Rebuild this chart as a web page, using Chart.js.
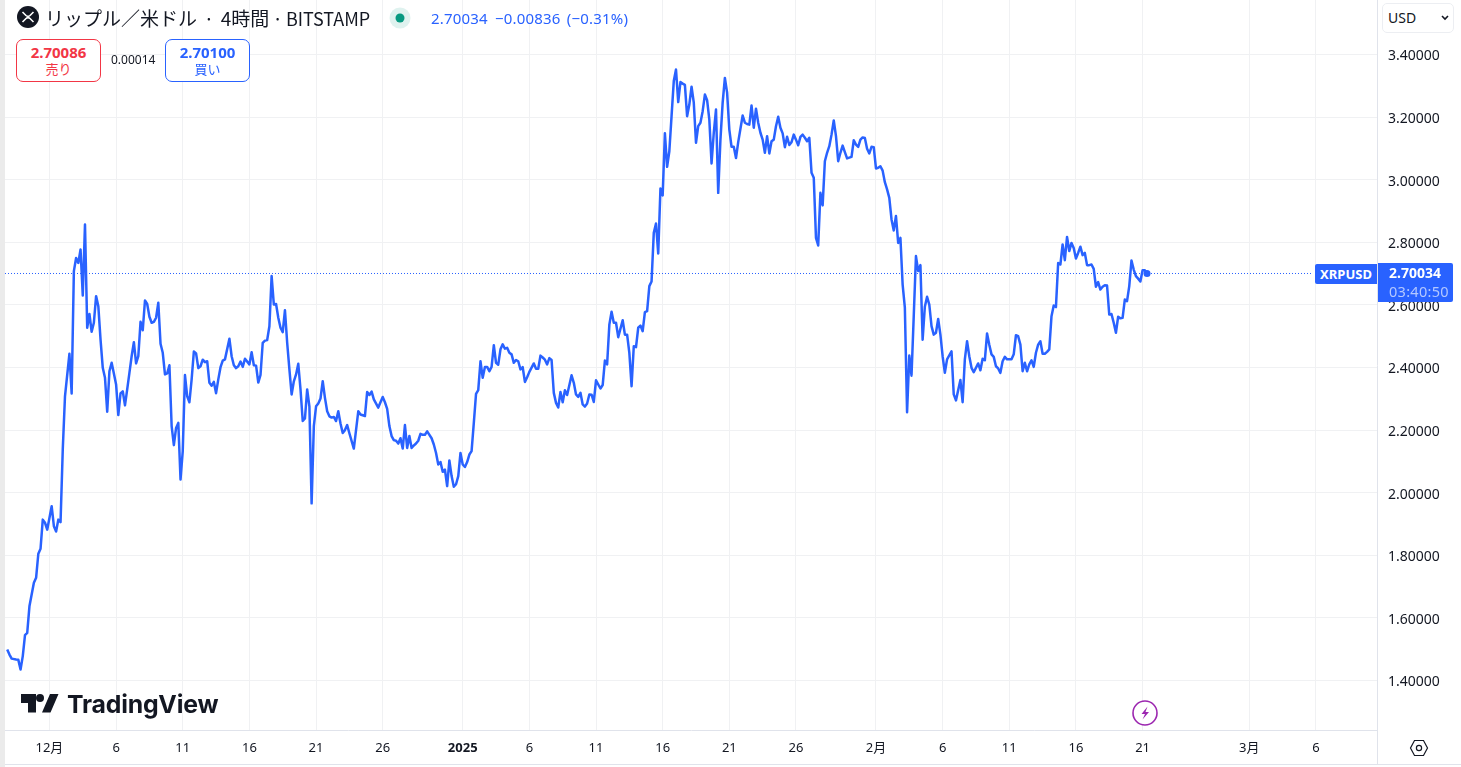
<!DOCTYPE html>
<html>
<head>
<meta charset="utf-8">
<title>XRPUSD</title>
<script src="https://cdn.jsdelivr.net/npm/chart.js@4"></script>
<style>
  html, body { margin: 0; padding: 0; background: #fff; }
  body { width: 1461px; height: 767px; position: relative; overflow: hidden; font-family: "Noto Sans", "Noto Sans CJK JP", sans-serif; color: #131722; }
  canvas { position: absolute; left: 0; top: 0; }
  .abs { position: absolute; white-space: nowrap; }
  .strip { left: 0; top: 0; width: 5px; height: 767px; background: #ebebeb; }
  .title { left: 45px; top: 5px; font-size: 19px; line-height: 26px; font-family: "Noto Sans CJK JP", sans-serif; }
  .title em { font-style: normal; font-size: 18px; }
  .title em.sep1 { margin: 0 2.5px; font-size: 18.5px; }
  .title em.sep2 { margin: 0 -1px; font-size: 18.5px; }
  .quote { left: 431px; top: 9px; font-size: 15px; line-height: 18px; color: #2962ff; letter-spacing: 0.2px; }
  .quote span { margin-left: 7px; }
  .box { top: 39px; width: 83px; height: 41px; border: 1px solid; border-radius: 7px; background: #fff; text-align: center; }
  .box b { display: block; font-size: 15px; line-height: 17px; margin-top: 4px; }
  .box i { display: block; font-style: normal; font-size: 13px; line-height: 16px; font-family: "Noto Sans CJK JP", sans-serif; }
  .sell { left: 16px; border-color: #f23645; color: #f23645; }
  .buy { left: 165px; border-color: #2962ff; color: #2962ff; }
  .spread { left: 111px; top: 52px; font-size: 12px; line-height: 16px; }
  .usd { left: 1382px; top: 3px; width: 70px; height: 28px; border: 1px solid #eceef2; border-radius: 5px; background: #fff; font-size: 14px; line-height: 28px; text-indent: 5px; }
  .sym { left: 1315px; top: 264px; width: 62px; height: 20px; background: #2962ff; color: #fff; border-radius: 2px 0 0 2px; font-size: 13px; font-weight: 700; line-height: 20px; text-align: center; }
  .last { left: 1378px; top: 263px; width: 64px; padding-left: 11px; height: 39px; background: #2962ff; color: #fff; border-radius: 0 2px 2px 0; font-size: 14px; line-height: 19px; }
  .last b { display: block; }
  .last span { display: block; color: #b4c8ff; font-size: 14.5px; letter-spacing: 0.3px; }
  .wordmark { left: 67px; top: 687px; font-family: Inter, sans-serif; font-size: 24.8px; font-weight: 700; line-height: 34px; letter-spacing: -0.2px; color: #131722; }
</style>
</head>
<body>
<canvas id="chart" width="1461" height="767"></canvas>
<div class="abs strip"></div>

<svg class="abs" style="left:17px;top:6px" width="22" height="22" viewBox="0 0 22 22">
  <circle cx="11" cy="11" r="11" fill="#131722"/>
  <path d="M5.5 6 L9 9.5 Q11 11.3 13 9.5 L16.5 6 M5.5 16 L9 12.5 Q11 10.7 13 12.5 L16.5 16" fill="none" stroke="#fff" stroke-width="1.6"/>
</svg>
<div class="abs title">リップル／米ドル<em class="sep1"> · </em>4時間<em class="sep2"> · </em><em>BITSTAMP</em></div>
<svg class="abs" style="left:389px;top:7px" width="22" height="22">
  <circle cx="11" cy="11" r="10.5" fill="#089981" fill-opacity="0.13"/>
  <circle cx="11" cy="11" r="4.5" fill="#089981"/>
</svg>
<div class="abs quote">2.70034<span>−0.00836</span> <span style="margin-left:2px">(−0.31%)</span></div>

<div class="abs box sell"><b>2.70086</b><i>売り</i></div>
<div class="abs spread">0.00014</div>
<div class="abs box buy"><b>2.70100</b><i>買い</i></div>

<div class="abs usd">USD</div>
<svg class="abs" style="left:1440px;top:14px" width="10" height="8"><path d="M2 2 L5 5 L8 2" fill="none" stroke="#131722" stroke-width="1.6"/></svg>

<div class="abs sym">XRPUSD</div>
<div class="abs last"><b>2.70034</b><span>03:40:50</span></div>

<svg class="abs" style="left:21px;top:694px" width="38" height="19">
  <path d="M0 0H15V18.5H7V9H0Z M29 0H37.5L29.5 18.5H21Z" fill="#131722"/>
  <circle cx="19" cy="4" r="4" fill="#131722"/>
</svg>
<div class="abs wordmark">TradingView</div>

<svg class="abs" style="left:1132px;top:700px" width="26" height="26" viewBox="0 0 26 26">
  <circle cx="13" cy="13" r="12" fill="#fff" stroke="#9c27b0" stroke-width="1.6"/>
  <path d="M15.5 6.5 L9.5 14 H13 L10.5 19.5 L17 12 H13.5 Z" fill="#9c27b0"/>
</svg>
<svg class="abs" style="left:1409px;top:738px" width="20" height="20" viewBox="0 0 20 20">
  <path d="M5.5 2.5 H14.5 L18.5 10 L14.5 17.5 H5.5 L1.5 10 Z" fill="none" stroke="#131722" stroke-width="1.2"/>
  <circle cx="10" cy="10" r="2.6" fill="none" stroke="#131722" stroke-width="1.2"/>
</svg>

<script>
// hours since 1 Dec 00:00, one 4h bar = 4
const hours = [
  -76, -72, -68, -60, -56, -52, -48, -44, -40, -36, -28, -24, -20, -16, -12, -8, -4, 4, 8, 12, 16, 20, 24, 28, 36, 40, 44, 48, 52, 56,
  60, 64, 68, 72, 76, 80, 84, 88, 92, 96, 100, 104, 108, 112, 116, 120, 124, 128, 132, 136, 140, 144, 148, 152, 156, 160, 164, 168, 172, 176,
  180, 184, 188, 192, 196, 200, 204, 208, 212, 216, 220, 224, 228, 232, 236, 240, 244, 248, 252, 256, 260, 264, 268, 272, 276, 280, 284, 288, 292, 296,
  300, 304, 308, 312, 316, 324, 328, 332, 336, 340, 344, 348, 352, 360, 364, 368, 372, 376, 380, 384, 388, 392, 396, 400, 404, 408, 412, 416, 420, 424,
  428, 432, 436, 440, 444, 448, 452, 456, 460, 464, 468, 472, 476, 480, 484, 488, 492, 496, 500, 504, 508, 512, 516, 520, 524, 528, 532, 536, 540,
  548, 556, 560, 568, 572, 576, 580, 584, 592, 600, 604, 608, 612, 616, 620, 624, 628, 632, 636, 640, 644, 648, 652, 656, 660, 664, 668, 672, 676, 680,
  688, 692, 696, 700, 704, 708, 712, 716, 720, 724, 728, 732, 736, 740, 744, 748, 752, 756, 760, 764, 768, 772, 776, 780, 784, 788, 792, 796, 800, 804,
  808, 812, 816, 820, 824, 828, 832, 836, 840, 844, 848, 852, 856, 860, 864, 872, 876, 880, 884, 888, 892, 896, 900, 904, 908, 912, 916, 920, 924, 928,
  932, 940, 944, 948, 952, 956, 960, 964, 968, 972, 976, 980, 984, 992, 996, 1000, 1004, 1008, 1012, 1016, 1020, 1024, 1032, 1036, 1040, 1044, 1048, 1052, 1056, 1060,
  1064, 1068, 1072, 1076, 1080, 1084, 1088, 1092, 1096, 1100, 1104, 1108, 1112, 1116, 1120, 1124, 1128, 1132, 1136, 1140, 1144, 1148, 1152, 1156, 1160, 1164, 1168, 1172, 1176, 1180,
  1184, 1188, 1192, 1196, 1200, 1204, 1208, 1212, 1216, 1220, 1224, 1228, 1232, 1236, 1240, 1248, 1252, 1256, 1260, 1264, 1268, 1272, 1276, 1280, 1284, 1288, 1292, 1296, 1300, 1304,
  1308, 1312, 1316, 1320, 1324, 1328, 1332, 1336, 1340, 1344, 1348, 1352, 1356, 1360, 1364, 1368, 1372, 1376, 1380, 1384, 1388, 1392, 1396, 1400, 1404, 1408, 1412, 1416, 1420, 1424,
  1428, 1432, 1436, 1444, 1448, 1452, 1456, 1460, 1464, 1468, 1472, 1476, 1480, 1484, 1488, 1492, 1496, 1500, 1504, 1508, 1512, 1516, 1520, 1524, 1528, 1532, 1536, 1540, 1544, 1548,
  1552, 1556, 1560, 1564, 1568, 1572, 1576, 1580, 1584, 1588, 1592, 1596, 1600, 1604, 1608, 1612, 1616, 1624, 1628, 1632, 1640, 1644, 1648, 1652, 1656, 1660, 1664, 1672, 1676, 1680,
  1684, 1688, 1692, 1696, 1700, 1704, 1708, 1712, 1716, 1720, 1724, 1732, 1736, 1740, 1744, 1748, 1752, 1756, 1760, 1764, 1768, 1772, 1776, 1780, 1784, 1788, 1792, 1796, 1800, 1804,
  1808, 1812, 1816, 1820, 1824, 1828, 1832, 1836, 1840, 1844, 1848, 1852, 1856, 1860, 1864, 1868, 1872, 1876, 1880, 1884, 1888, 1892, 1896, 1900, 1904, 1908, 1912, 1916, 1920, 1924,
  1928, 1932, 1936, 1940, 1944, 1948, 1952, 1956, 1960, 1964, 1968, 1972, 1976
];

const prices = [
  1.499, 1.483, 1.470, 1.467, 1.466, 1.435, 1.478, 1.545, 1.552, 1.637, 1.712, 1.728, 1.805, 1.821, 1.914, 1.904, 1.882, 1.957, 1.893, 1.876, 1.914, 1.906, 2.138, 2.308, 2.444, 2.317, 2.708, 2.750, 2.734, 2.777,
  2.630, 2.857, 2.527, 2.571, 2.514, 2.543, 2.628, 2.596, 2.489, 2.399, 2.367, 2.259, 2.388, 2.415, 2.381, 2.346, 2.248, 2.317, 2.324, 2.279, 2.330, 2.383, 2.436, 2.481, 2.413, 2.436, 2.546, 2.519, 2.614, 2.603,
  2.562, 2.543, 2.546, 2.559, 2.607, 2.476, 2.447, 2.378, 2.381, 2.407, 2.213, 2.152, 2.207, 2.223, 2.042, 2.133, 2.376, 2.308, 2.289, 2.362, 2.451, 2.445, 2.398, 2.404, 2.425, 2.417, 2.420, 2.351, 2.342, 2.354,
  2.318, 2.362, 2.401, 2.422, 2.426, 2.492, 2.436, 2.407, 2.398, 2.404, 2.419, 2.402, 2.428, 2.410, 2.449, 2.407, 2.406, 2.352, 2.376, 2.479, 2.486, 2.488, 2.532, 2.692, 2.601, 2.603, 2.559, 2.527, 2.513, 2.583,
  2.479, 2.394, 2.314, 2.356, 2.378, 2.412, 2.330, 2.229, 2.237, 2.330, 2.276, 1.966, 2.213, 2.276, 2.285, 2.301, 2.356, 2.303, 2.260, 2.244, 2.240, 2.242, 2.229, 2.260, 2.221, 2.191, 2.200, 2.216, 2.190,
  2.141, 2.260, 2.250, 2.245, 2.322, 2.312, 2.323, 2.298, 2.272, 2.306, 2.289, 2.268, 2.213, 2.181, 2.168, 2.166, 2.157, 2.174, 2.141, 2.216, 2.143, 2.181, 2.143, 2.151, 2.157, 2.166, 2.188, 2.185, 2.185, 2.196,
  2.174, 2.154, 2.127, 2.090, 2.098, 2.067, 2.074, 2.021, 2.103, 2.053, 2.019, 2.027, 2.053, 2.127, 2.090, 2.082, 2.098, 2.122, 2.133, 2.223, 2.316, 2.328, 2.420, 2.367, 2.402, 2.402, 2.388, 2.402, 2.471, 2.415,
  2.409, 2.458, 2.474, 2.460, 2.463, 2.447, 2.442, 2.415, 2.424, 2.420, 2.394, 2.401, 2.354, 2.369, 2.386, 2.413, 2.396, 2.396, 2.438, 2.432, 2.425, 2.410, 2.430, 2.424, 2.319, 2.287, 2.272, 2.322, 2.289, 2.327,
  2.312, 2.375, 2.351, 2.314, 2.306, 2.319, 2.282, 2.275, 2.285, 2.314, 2.313, 2.290, 2.359, 2.333, 2.344, 2.422, 2.410, 2.537, 2.578, 2.543, 2.543, 2.497, 2.551, 2.505, 2.505, 2.447, 2.340, 2.468, 2.465, 2.527,
  2.534, 2.516, 2.577, 2.580, 2.660, 2.675, 2.830, 2.860, 2.764, 2.972, 2.950, 3.148, 3.041, 3.091, 3.203, 3.315, 3.352, 3.248, 3.312, 3.307, 3.303, 3.203, 3.240, 3.297, 3.246, 3.118, 3.171, 3.182, 3.219, 3.272,
  3.254, 3.192, 3.052, 3.150, 3.224, 2.958, 3.128, 3.246, 3.325, 3.278, 3.160, 3.105, 3.105, 3.069, 3.120, 3.205, 3.182, 3.178, 3.176, 3.237, 3.166, 3.227, 3.182, 3.150, 3.128, 3.086, 3.139, 3.084, 3.123, 3.128,
  3.171, 3.201, 3.166, 3.148, 3.104, 3.137, 3.111, 3.120, 3.144, 3.128, 3.110, 3.137, 3.144, 3.134, 3.123, 3.134, 3.022, 3.006, 2.814, 2.790, 2.958, 2.918, 3.059, 3.086, 3.107, 3.144, 3.189, 3.139, 3.059, 3.086,
  3.109, 3.088, 3.068, 3.073, 3.126, 3.112, 3.105, 3.128, 3.135, 3.133, 3.099, 3.084, 3.105, 3.104, 3.036, 3.038, 3.043, 3.029, 2.992, 2.969, 2.942, 2.873, 2.838, 2.884, 2.798, 2.814, 2.665, 2.591, 2.257, 2.438,
  2.374, 2.564, 2.756, 2.708, 2.727, 2.489, 2.594, 2.626, 2.601, 2.532, 2.505, 2.511, 2.555, 2.505, 2.436, 2.383, 2.426, 2.452, 2.314, 2.295, 2.360, 2.289, 2.426, 2.484, 2.436, 2.399, 2.385, 2.413, 2.391, 2.428,
  2.423, 2.509, 2.473, 2.442, 2.434, 2.404, 2.397, 2.383, 2.420, 2.434, 2.426, 2.426, 2.442, 2.503, 2.500, 2.473, 2.388, 2.415, 2.388, 2.410, 2.423, 2.402, 2.447, 2.473, 2.484, 2.444, 2.444, 2.450, 2.458, 2.564,
  2.598, 2.593, 2.734, 2.729, 2.793, 2.743, 2.817, 2.772, 2.798, 2.782, 2.748, 2.766, 2.786, 2.759, 2.766, 2.727, 2.727, 2.729, 2.715, 2.658, 2.673, 2.649, 2.658, 2.663, 2.662, 2.569, 2.571, 2.543, 2.511, 2.562,
  2.557, 2.559, 2.617, 2.612, 2.660, 2.742, 2.713, 2.692, 2.684, 2.675, 2.711, 2.711, 2.70034
];

const lastPrice = 2.70034;
const priceLineEnd = 2272;

const yTicks = [1.4, 1.6, 1.8, 2.0, 2.2, 2.4, 2.6, 2.8, 3.0, 3.2, 3.4];
const xTickDays = [0, 5, 10, 15, 20, 25, 31, 36, 41, 46, 51, 56, 62, 67, 72, 77, 82, 90, 95];
const xTickLabels = ["12月", "6", "11", "16", "21", "26", "2025", "6", "11", "16", "21", "26", "2月", "6", "11", "16", "21", "3月", "6"];

const fontFamily = '"Noto Sans", "Noto Sans CJK JP", sans-serif';
const gridColor = "#f0f1f3";
const axisColor = "#e0e3eb";
const lineColor = "#2962ff";

const series = hours.map((h, i) => ({ x: h, y: prices[i] }));

// the last-point dot would otherwise push the plot area 4px in from the top
Chart.registry.getController("line").prototype.getMaxOverflow = () => 0;

new Chart(document.getElementById("chart"), {
  type: "line",
  data: {
    datasets: [
      {
        data: [{ x: -80, y: lastPrice }, { x: priceLineEnd, y: lastPrice }],
        borderColor: lineColor,
        borderWidth: 1,
        borderDash: [1, 2],
        pointRadius: 0,
      },
      {
        data: series,
        borderColor: lineColor,
        backgroundColor: lineColor,
        borderWidth: 2.5,
        tension: 0,
        borderJoinStyle: "round",
        pointRadius: (ctx) => (ctx.dataIndex === series.length - 1 ? 3.5 : 0),
        pointBorderWidth: 0,
      },
    ],
  },
  options: {
    responsive: false,
    animation: false,
    events: [],
    layout: { padding: { left: 5, right: 0, top: 0, bottom: 3 } },
    plugins: { legend: { display: false }, tooltip: { enabled: false } },
    scales: {
      x: {
        type: "linear",
        min: -80,
        max: 2390,
        afterBuildTicks: (axis) => {
          axis.ticks = xTickDays.map((d) => ({ value: d * 24 }));
        },
        afterFit: (axis) => {
          axis.height = 34;
          axis.paddingLeft = 0;
          axis.paddingRight = 0;
        },
        grid: { color: gridColor, drawTicks: false },
        border: { color: axisColor },
        ticks: {
          maxRotation: 0,
          autoSkip: false,
          padding: 10,
          color: "#131722",
          font: (ctx) => ({
            family: fontFamily,
            size: 13,
            weight: ctx.tick && ctx.tick.value === 31 * 24 ? "700" : "400",
          }),
          callback: (v, i) => xTickLabels[i],
        },
      },
      y: {
        position: "right",
        min: 1.2419,
        max: 3.5741,
        afterBuildTicks: (axis) => {
          axis.ticks = yTicks.map((v) => ({ value: v }));
        },
        afterFit: (axis) => {
          axis.width = 84;
          axis.paddingTop = 0;
          axis.paddingBottom = 0;
        },
        grid: { color: gridColor, drawTicks: false },
        border: { color: axisColor },
        ticks: {
          padding: 11,
          labelOffset: 2,
          color: "#131722",
          font: { family: fontFamily, size: 14 },
          callback: (v) => v.toFixed(5),
        },
      },
    },
  },
  plugins: [
    {
      // closing rule under the time axis and the corner divider
      id: "frame",
      afterDraw: (chart) => {
        const { ctx, chartArea } = chart;
        ctx.save();
        ctx.strokeStyle = axisColor;
        ctx.lineWidth = 1;
        ctx.beginPath();
        ctx.moveTo(5, chartArea.bottom + 34.5);
        ctx.lineTo(1461, chartArea.bottom + 34.5);
        ctx.moveTo(chartArea.right + 0.5, chartArea.bottom);
        ctx.lineTo(chartArea.right + 0.5, chartArea.bottom + 34);
        ctx.stroke();
        ctx.restore();
      },
    },
  ],
});
</script>
</body>
</html>
